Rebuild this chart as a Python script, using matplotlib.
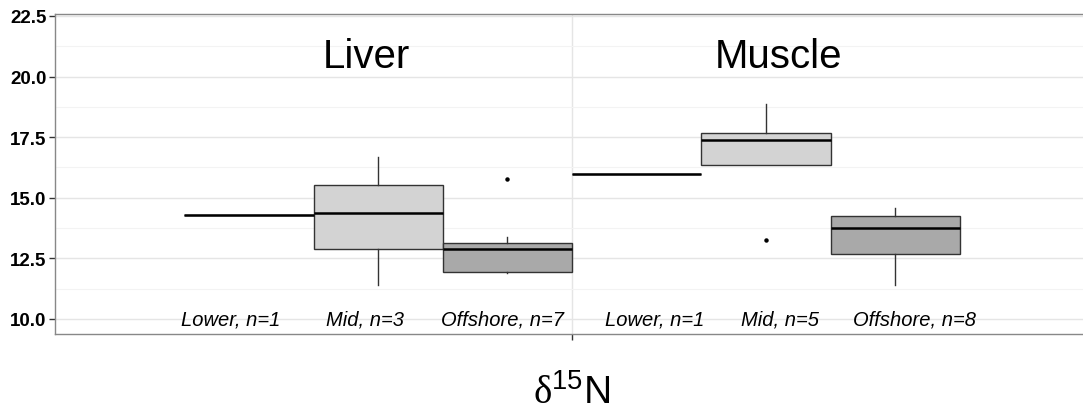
import numpy as np
import matplotlib
matplotlib.use("Agg")
import matplotlib.pyplot as plt
from matplotlib.ticker import MultipleLocator

plt.rcParams["font.family"] = ["Liberation Sans", "DejaVu Sans"]
plt.rcParams["mathtext.fontset"] = "custom"
plt.rcParams["mathtext.rm"] = "Liberation Serif"
plt.rcParams["mathtext.sf"] = "Liberation Sans"

# delta 15N values per tissue and site
liver_lower = [14.3]
liver_mid = [11.42, 14.37, 16.67]
liver_offshore = [11.89, 11.90, 11.96, 12.90, 12.90, 13.37, 15.76]
muscle_lower = [16.0]
muscle_mid = [13.27, 16.37, 17.38, 17.66, 18.87]
muscle_offshore = [11.42, 12.50, 12.74, 13.60, 13.90, 14.20, 14.36, 14.58]

groups = [liver_lower, liver_mid, liver_offshore,
          muscle_lower, muscle_mid, muscle_offshore]
sites = ["Lower", "Mid", "Offshore", "Lower", "Mid", "Offshore"]
site_fill = {"Lower": "#FFFFFF", "Mid": "#D3D3D3", "Offshore": "#A9A9A9"}
tissues = ["Liver", "Muscle"]

fig = plt.figure(figsize=(10.83, 4.14), dpi=100)
ax = fig.add_axes([55 / 1083, 1 - 335 / 414, 1034 / 1083, 320 / 414])

# six dodged boxes sharing one x category at 1
box_w = 0.15
positions = 1 + (np.arange(len(groups)) - 2.5) * box_w

bp = ax.boxplot(groups, positions=positions, widths=box_w, whis=1.5,
                patch_artist=True, showcaps=False, manage_ticks=False,
                medianprops=dict(color="black", linewidth=1.8),
                whiskerprops=dict(color="#333333", linewidth=1),
                boxprops=dict(edgecolor="#333333", linewidth=1),
                flierprops=dict(marker="o", markersize=2.2,
                                markerfacecolor="black",
                                markeredgecolor="black"))
for patch, site in zip(bp["boxes"], sites):
    patch.set_facecolor(site_fill[site])
for med in bp["medians"]:
    med.set_zorder(4)

# group labels under the boxes
label_x = [0.604, 0.760, 0.919, 1.096, 1.241, 1.398]
for x, site, vals in zip(label_x, sites, groups):
    ax.text(x, 10.0, f"{site}, n={len(vals)}", style="italic",
            fontsize=14.5, ha="center", va="center", zorder=5)

ax.text(0.761, 20.85, tissues[0], fontsize=29, ha="center", va="center")
ax.text(1.240, 20.85, tissues[1], fontsize=29, ha="center", va="center")

ax.set_xlim(0.4, 1.6)
ax.set_ylim(9.38, 22.58)
ax.set_xticks([1.0])
ax.set_xticklabels([""])
ax.yaxis.set_major_locator(MultipleLocator(2.5))
ax.yaxis.set_minor_locator(MultipleLocator(1.25))
ax.yaxis.set_major_formatter(matplotlib.ticker.FormatStrFormatter("%.1f"))
for lbl in ax.get_yticklabels():
    lbl.set_fontweight("bold")
    lbl.set_fontsize(13.5)
ax.tick_params(axis="both", which="major", length=4, color="#333333", width=1,
               pad=2)
ax.tick_params(axis="y", which="minor", length=0)

ax.grid(True, which="major", color="#E5E5E5", linewidth=1)
ax.grid(True, which="minor", axis="y", color="#F3F3F3", linewidth=0.8)
ax.set_axisbelow(True)
for sp in ax.spines.values():
    sp.set_color("#888888")
    sp.set_linewidth(1)

ax.set_xlabel(r"$\mathrm{\delta}^{\mathsf{15}}$N", fontsize=28, labelpad=22)

fig.savefig("out.png", dpi=100)
